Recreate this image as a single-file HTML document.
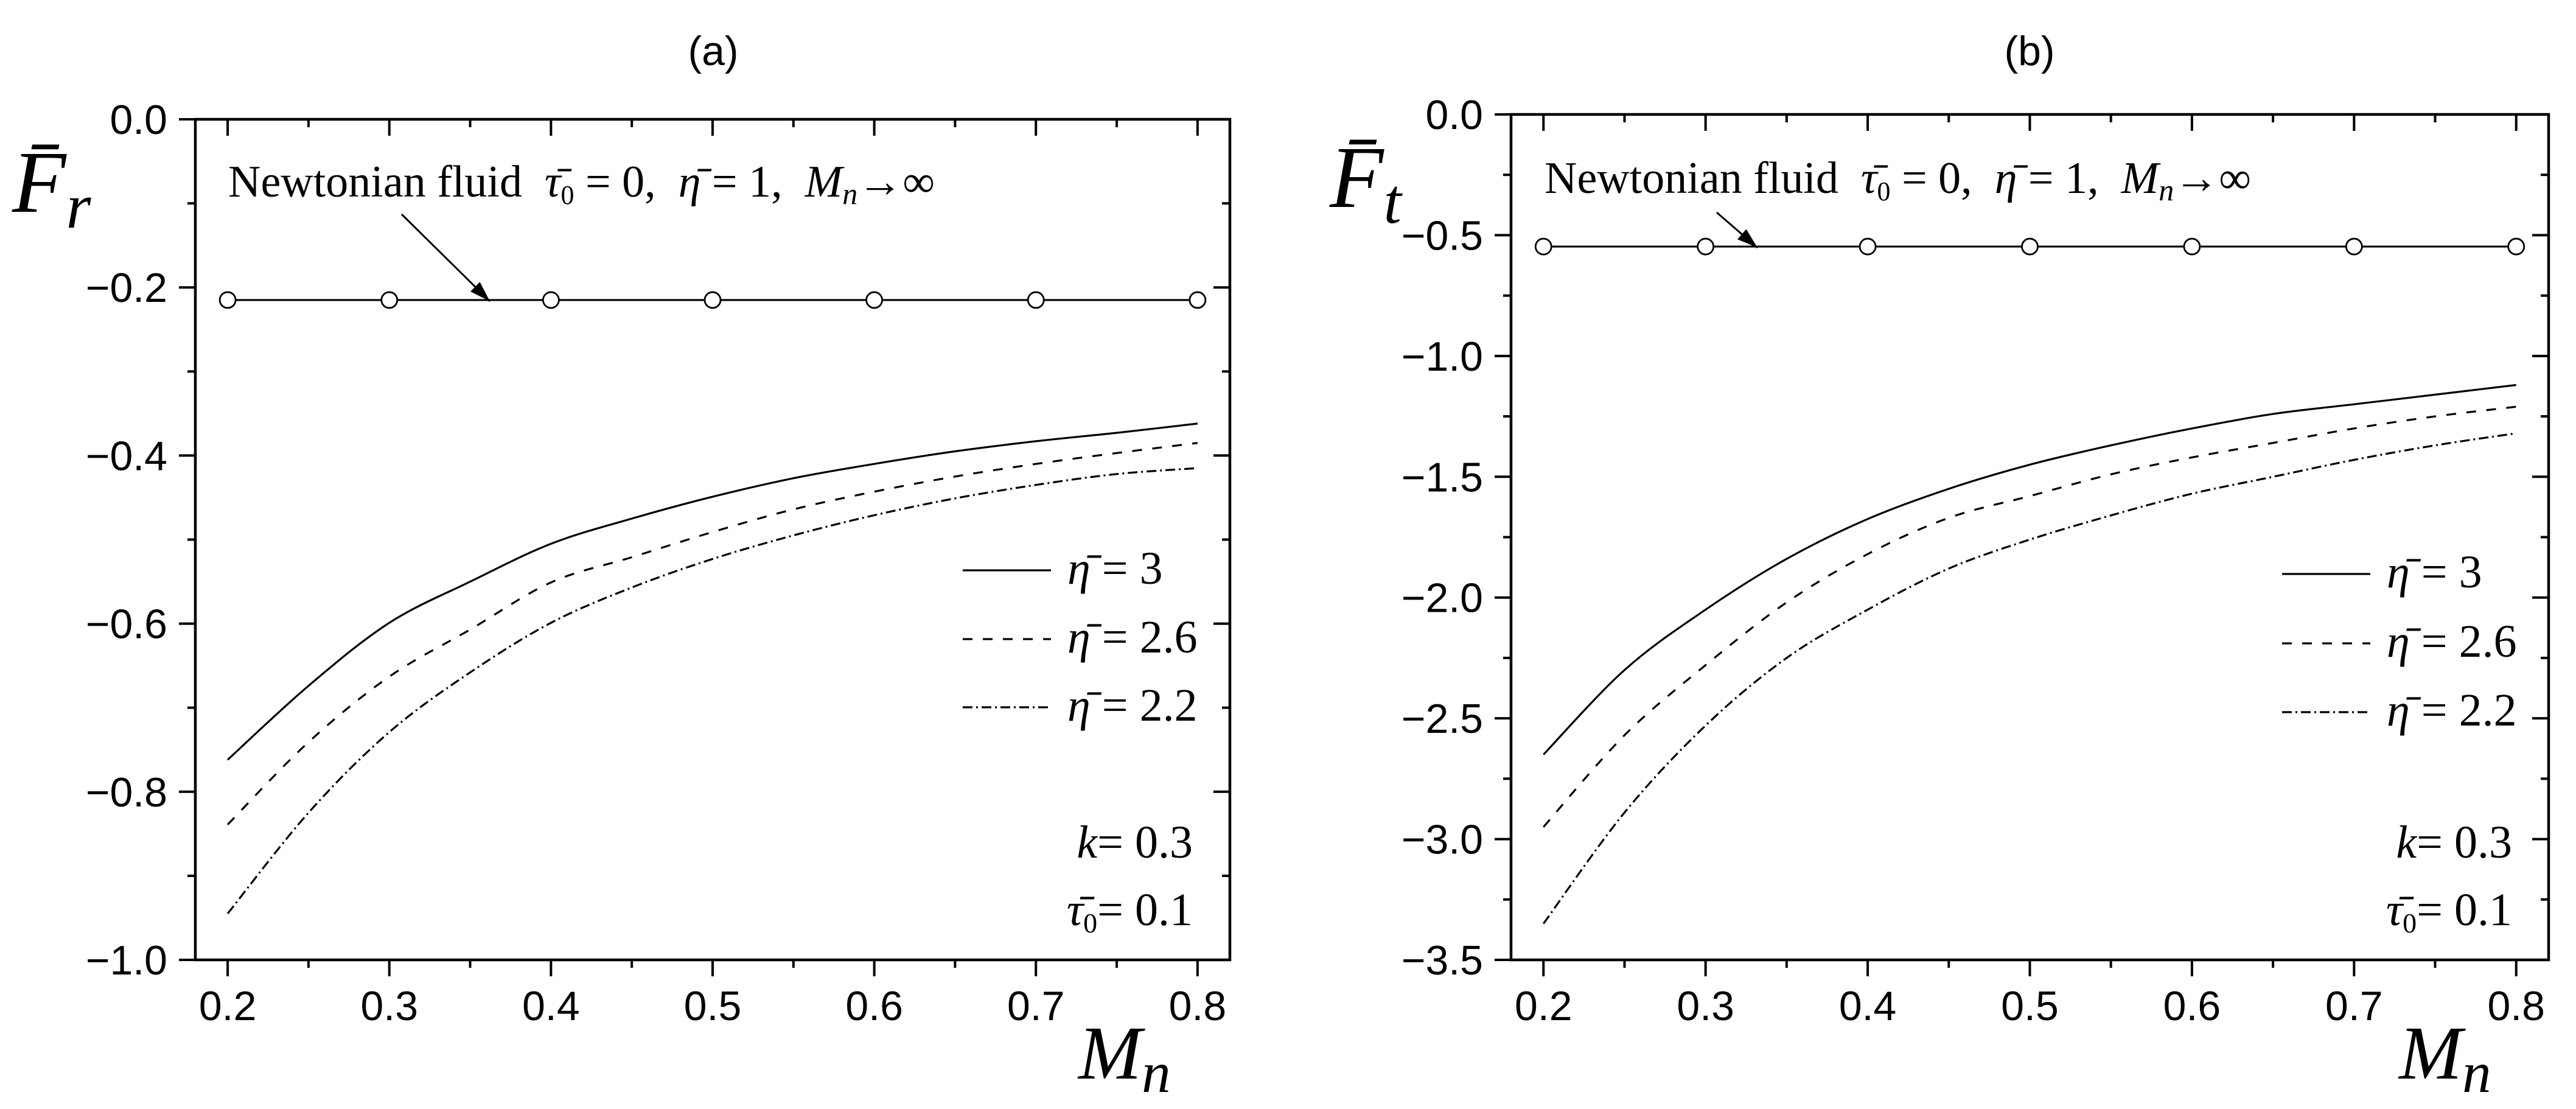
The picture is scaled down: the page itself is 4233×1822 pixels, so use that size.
<!DOCTYPE html>
<html><head><meta charset="utf-8"><style>
html,body{margin:0;padding:0;background:#fff}
svg{display:block}
.tk{font-family:"Liberation Sans",Arial,sans-serif;font-size:68px;fill:#000}
.tm{font-family:"Liberation Serif","Times New Roman",serif;fill:#000}
</style></head><body>
<svg id="fig" width="4233" height="1822" viewBox="0 0 4233 1822" xmlns="http://www.w3.org/2000/svg">
</svg>
<script>
const mnValues = [0.2,0.25,0.3,0.35,0.4,0.45,0.5,0.55,0.6,0.65,0.7,0.75,0.8];
const newtonX = [0.2,0.3,0.4,0.5,0.6,0.7,0.8];
const frEta3  = [-0.762,-0.674,-0.599,-0.550,-0.505,-0.475,-0.449,-0.427,-0.410,-0.395,-0.383,-0.373,-0.362];
const frEta26 = [-0.839,-0.741,-0.663,-0.607,-0.551,-0.521,-0.491,-0.464,-0.443,-0.425,-0.410,-0.397,-0.385];
const frEta22 = [-0.945,-0.825,-0.729,-0.658,-0.599,-0.557,-0.523,-0.495,-0.471,-0.451,-0.435,-0.422,-0.415];
const frNewton = -0.215;
const ftEta3  = [-2.65,-2.30,-2.05,-1.84,-1.675,-1.55,-1.45,-1.37,-1.30,-1.24,-1.20,-1.16,-1.12];
const ftEta26 = [-2.95,-2.57,-2.28,-2.02,-1.82,-1.67,-1.58,-1.49,-1.42,-1.36,-1.30,-1.25,-1.21];
const ftEta22 = [-3.35,-2.89,-2.53,-2.25,-2.05,-1.88,-1.76,-1.66,-1.57,-1.50,-1.43,-1.37,-1.32];
const ftNewton = -0.547;
const xTickLabels = ["0.2","0.3","0.4","0.5","0.6","0.7","0.8"];
const frTickLabels = ["0.0","\u22120.2","\u22120.4","\u22120.6","\u22120.8","\u22121.0"];
const ftTickLabels = ["0.0","\u22120.5","\u22121.0","\u22121.5","\u22122.0","\u22122.5","\u22123.0","\u22123.5"];

const NS="http://www.w3.org/2000/svg";
const svg=document.getElementById('fig');
function el(tag,attrs,parent){const e=document.createElementNS(NS,tag);for(const k in attrs)e.setAttribute(k,attrs[k]);(parent||svg).appendChild(e);return e;}

function smoothPath(pts){
  let d="M"+pts[0][0].toFixed(1)+","+pts[0][1].toFixed(1);
  for(let i=0;i<pts.length-1;i++){
    const p0=pts[Math.max(0,i-1)],p1=pts[i],p2=pts[i+1],p3=pts[Math.min(pts.length-1,i+2)];
    const c1=[p1[0]+(p2[0]-p0[0])/6,p1[1]+(p2[1]-p0[1])/6];
    const c2=[p2[0]-(p3[0]-p1[0])/6,p2[1]-(p3[1]-p1[1])/6];
    d+=" C"+c1.map(v=>v.toFixed(1)).join(",")+" "+c2.map(v=>v.toFixed(1)).join(",")+" "+p2.join(",");
  }
  return d;
}

function panel(cfg){
  const g=el('g',{});
  
  
  const L=cfg.L,R=cfg.R,T=cfg.T,B=cfg.B;
  const xs=v=>L+(v-0.18)/(0.64)*(R-L);
  const ys=v=>T+(cfg.ymax-v)/(cfg.ymax-cfg.ymin)*(B-T);
  const t=el('text',{x:cfg.titleX,y:107,'text-anchor':'middle','class':'tk','font-size':'100'},g);
  t.textContent=cfg.title;
  
  
  const fr=el('rect',{x:L,y:T,width:R-L,height:B-T,fill:'none',stroke:'#000','stroke-width':4.5},g);
  
  
  for(let i=0;i<=12;i++){
    const v=0.2+i*0.05, x=xs(v), major=i%2===0, len=major?27:13;
    el('line',{x1:x,y1:B,x2:x,y2:B+len,stroke:'#000','stroke-width':4},g);
    el('line',{x1:x,y1:T,x2:x,y2:T+len,stroke:'#000','stroke-width':4},g);
    if(major){
      const tl=el('text',{x:x,y:1676,'text-anchor':'middle','class':'tk'},g);
      tl.textContent=xTickLabels[i/2];
      
      
    }
  }
  const nMaj=cfg.yLabels.length;
  for(let i=0;i<(nMaj-1)*2+1;i++){
    const v=cfg.ymax-i*cfg.ystep/2, y=ys(v), major=i%2===0, len=major?27:13;
    el('line',{x1:L,y1:y,x2:L-len,y2:y,stroke:'#000','stroke-width':4},g);
    el('line',{x1:R,y1:y,x2:R-len,y2:y,stroke:'#000','stroke-width':4},g);
    if(major){
      const tl=el('text',{x:L-46,y:y+24,'text-anchor':'end','class':'tk'},g);
      tl.textContent=cfg.yLabels[i/2];
      
      
    }
  }
  const styles=[{d:'none',n:'curve-eta-3'},{d:'16 17',n:'curve-eta-2-6'},{d:'16 6 3 6',n:'curve-eta-2-2'}];
  cfg.series.forEach((s,k)=>{
    const pts=mnValues.map((m,i)=>[+xs(m).toFixed(1),+ys(s[i]).toFixed(1)]);
    const p=el('path',{d:smoothPath(pts),fill:'none',stroke:'#000','stroke-width':3.2,'stroke-dasharray':styles[k].d},g);
    
    
  });
  const ny=ys(cfg.newton);
  const nl=el('line',{x1:xs(newtonX[0]),y1:ny,x2:xs(newtonX[newtonX.length-1]),y2:ny,stroke:'#000','stroke-width':3.2},g);
  
  
  newtonX.forEach(m=>{
    const c=el('circle',{cx:xs(m),cy:ny,r:13,fill:'#fff',stroke:'#000','stroke-width':2.8},g);
    
    
  });
  const an=el('text',{x:cfg.annX,y:cfg.annY,'class':'tm','font-size':'74'},g);
  an.innerHTML='Newtonian fluid&#160;&#160;<tspan font-style="italic">τ̄</tspan><tspan font-size="44" dy="12">0</tspan><tspan dy="-12"> = 0,&#160; </tspan><tspan font-style="italic">η̄</tspan> = 1,&#160; <tspan font-style="italic">M</tspan><tspan font-style="italic" font-size="50" dy="12">n</tspan><tspan dy="-12">→∞</tspan>';
  
  
  const ar=el('line',{x1:cfg.arr[0],y1:cfg.arr[1],x2:cfg.arr[2],y2:cfg.arr[3],stroke:'#000','stroke-width':3},g);
  
  
  const ang=Math.atan2(cfg.arr[3]-cfg.arr[1],cfg.arr[2]-cfg.arr[0]);
  const hx=cfg.arr[2],hy=cfg.arr[3],hl=34,hw=11;
  const bx=hx-hl*Math.cos(ang),by=hy-hl*Math.sin(ang);
  const ah=el('polygon',{points:`${hx},${hy} ${bx+hw*Math.sin(ang)},${by-hw*Math.cos(ang)} ${bx-hw*Math.sin(ang)},${by+hw*Math.cos(ang)}`,fill:'#000'},g);
  
  
  const labs=['3','2.6','2.2'];
  labs.forEach((lb,k)=>{
    const ly=cfg.legY[k];
    const ll=el('line',{x1:cfg.legX,y1:ly,x2:cfg.legX+145,y2:ly,stroke:'#000','stroke-width':3.2,'stroke-dasharray':styles[k].d},g);
    
    
    const lt=el('text',{x:cfg.legX+172,y:ly+22,'class':'tm','font-size':'76'},g);
    lt.innerHTML='<tspan font-style="italic">η̄</tspan> = '+lb;
    
    
  });
  const k1=el('text',{x:cfg.kR,y:1409,'text-anchor':'end','class':'tm','font-size':'76'},g);
  k1.innerHTML='<tspan font-style="italic">k</tspan>= 0.3';
  
  
  const k2=el('text',{x:cfg.kR,y:1520,'text-anchor':'end','class':'tm','font-size':'76'},g);
  k2.innerHTML='<tspan font-style="italic">τ̄</tspan><tspan font-size="46" dy="12">0</tspan><tspan dy="-12">= 0.1</tspan>';
  
  
  const yt=el('text',{x:cfg.yTitleX,y:cfg.yTitleY,'class':'tm','font-size':'145','font-style':'italic'},g);
  yt.innerHTML='F̄<tspan font-size="105" dy="26">'+cfg.sub+'</tspan>';
  
  
  const xt=el('text',{x:cfg.xTitleX,y:1772,'class':'tm','font-size':'125','font-style':'italic'},g);
  xt.innerHTML='M<tspan font-size="95" dy="22">n</tspan>';
  
  
}

panel({name:'panel-a',title:'(a)',titleX:1172,L:321,R:2021,T:196,B:1577,ymax:0,ymin:-1,ystep:0.2,yLabels:frTickLabels,
  series:[frEta3,frEta26,frEta22],newton:frNewton,annX:375,annY:323,arr:[660,352,805,495],
  legX:1582,legY:[937,1050,1162],kR:1960,sub:'r',yTitleX:20,yTitleY:348,xTitleX:1772});
panel({name:'panel-b',title:'(b)',titleX:3335,L:2483,R:4188,T:188,B:1577,ymax:0,ymin:-3.5,ystep:0.5,yLabels:ftTickLabels,
  series:[ftEta3,ftEta26,ftEta22],newton:ftNewton,annX:2538,annY:317,arr:[2821,349,2888,407],
  legX:3750,legY:[943,1057,1170],kR:4128,sub:'t',yTitleX:2185,yTitleY:340,xTitleX:3942});
</script>
</body></html>
